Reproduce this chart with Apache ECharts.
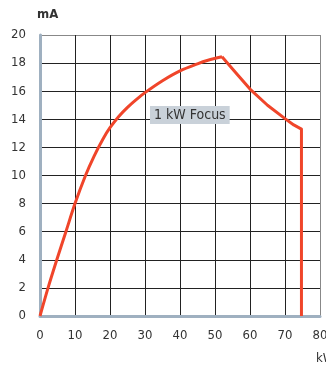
<!DOCTYPE html>
<html>
<head>
<meta charset="utf-8">
<script src="https://cdn.jsdelivr.net/npm/echarts@6/dist/echarts.min.js"></script>
<style>
  html, body { margin: 0; padding: 0; background: #fff; }
  #graph1 { width: 326px; height: 365px; }
</style>
</head>
<body>
<div id="graph1"></div>
<script>
// 功率 (kW) 与管电流 (mA)：上升段
const powerRise = [
  0, 2.3, 4.8, 7.4, 10, 13, 15.5, 18, 20,
  22.5, 25, 27.5, 30, 35, 40, 45, 48, 52,
]
const currentRise = [
  0, 2, 4, 6, 8, 10, 11.4, 12.6, 13.4,
  14.2, 14.85, 15.4, 15.9, 16.75, 17.45, 17.95, 18.2, 18.45,
]
// 下降段
const powerFall = [52, 56, 60, 65, 70, 72.5, 74.7, 74.7]
const currentFall = [18.45, 17.3, 16.15, 15.0, 14.05, 13.6, 13.3, 0]

const xTicks = [0, 10, 20, 30, 40, 50, 60, 70, 80]
const yTicks = [0, 2, 4, 6, 8, 10, 12, 14, 16, 18, 20]
const curveName = '1 kW Focus'

const font = '"DejaVu Sans Condensed", "Liberation Sans", sans-serif'
const lineColor = '#f0452a'

echarts.init(document.getElementById('graph1')).setOption({
  animation: false,
  grid: {
    left: 40,
    right: 6,
    top: 35,
    bottom: 49,
    outerBoundsMode: 'none',
  },
  xAxis: {
    type: 'value',
    min: xTicks[0],
    max: xTicks[xTicks.length - 1],
    interval: 10,
    name: 'kW',
    nameLocation: 'end',
    nameGap: 0,
    nameTextStyle: {
      fontFamily: font,
      fontSize: 13,
      color: '#333',
      align: 'left',
      verticalAlign: 'top',
      padding: [36, 0, 0, -4],
    },
    axisLine: { lineStyle: { color: '#9fb0c0', width: 3 } },
    axisTick: { show: false },
    axisLabel: {
      fontFamily: font,
      fontSize: 13,
      color: '#333',
      margin: 13,
    },
    splitLine: {
      lineStyle: {
        color: ['#222', '#222', '#222', '#222', '#222', '#222', '#222', '#222', '#888'],
        width: 1,
      },
    },
  },
  yAxis: {
    type: 'value',
    min: yTicks[0],
    max: yTicks[yTicks.length - 1],
    interval: 2,
    name: 'mA',
    nameLocation: 'end',
    nameGap: 14,
    nameTextStyle: {
      fontFamily: font,
      fontSize: 13,
      fontWeight: 'bold',
      color: '#333',
      align: 'left',
      padding: [0, 0, 0, -3],
    },
    axisLine: { show: true, lineStyle: { color: '#9fb0c0', width: 3 } },
    axisTick: { show: false },
    axisLabel: {
      fontFamily: font,
      fontSize: 13,
      color: '#333',
      margin: 14,
    },
    splitLine: {
      lineStyle: {
        color: ['#222', '#222', '#222', '#222', '#222', '#222', '#222', '#222', '#222', '#222', '#888'],
        width: 1,
      },
    },
  },
  graphic: [
    {
      type: 'text',
      left: 150,
      top: 106,
      z: 10,
      style: {
        text: curveName,
        fontFamily: font,
        fontSize: 14,
        fill: '#333',
        backgroundColor: '#c9d1d9',
        padding: [2, 4, 2, 4],
      },
    },
  ],
  series: [
    {
      name: curveName,
      type: 'line',
      data: powerRise.map((p, i) => [p, currentRise[i]]),
      symbol: 'none',
      smooth: 0.3,
      lineStyle: { color: lineColor, width: 3, join: 'round' },
    },
    {
      name: curveName,
      type: 'line',
      data: powerFall.map((p, i) => [p, currentFall[i]]),
      symbol: 'none',
      smooth: false,
      lineStyle: { color: lineColor, width: 3, join: 'round' },
    },
  ],
})
</script>
</body>
</html>
